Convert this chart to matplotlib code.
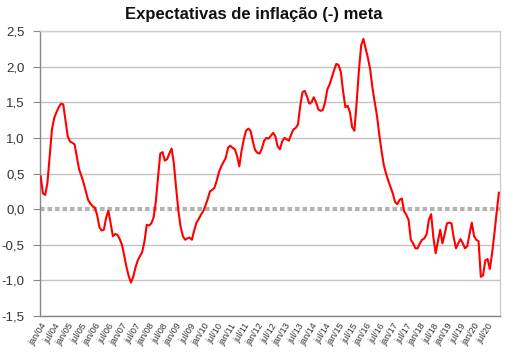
import matplotlib
matplotlib.use("Agg")
import matplotlib.pyplot as plt
import numpy as np

plt.rcParams['font.family'] = ['Liberation Sans', 'DejaVu Sans']

title = "Expectativas de inflação (-) meta"

values = [
    0.46, 0.22, 0.20, 0.37, 0.75, 1.12, 1.28, 1.36, 1.43, 1.48, 1.47, 1.25,
    1.02, 0.95, 0.93, 0.91, 0.74, 0.56, 0.47, 0.37, 0.25, 0.13, 0.08, 0.04,
    0.02, -0.08, -0.25, -0.30, -0.29, -0.12, -0.02, -0.20, -0.38, -0.35, -0.36, -0.42,
    -0.50, -0.65, -0.81, -0.94, -1.03, -0.95, -0.82, -0.72, -0.66, -0.60, -0.45, -0.22,
    -0.23, -0.20, -0.12, 0.10, 0.45, 0.78, 0.80, 0.68, 0.70, 0.78, 0.85, 0.64,
    0.30, -0.02, -0.25, -0.38, -0.43, -0.41, -0.40, -0.43, -0.30, -0.19, -0.14, -0.08,
    -0.03, 0.05, 0.14, 0.25, 0.27, 0.30, 0.40, 0.52, 0.60, 0.66, 0.72, 0.86,
    0.89, 0.86, 0.84, 0.75, 0.60, 0.82, 0.98, 1.10, 1.13, 1.10, 0.95, 0.83,
    0.79, 0.78, 0.85, 0.96, 1.00, 0.99, 1.03, 1.07, 1.02, 0.88, 0.84, 0.95,
    1.00, 0.98, 0.96, 1.05, 1.12, 1.14, 1.19, 1.45, 1.64, 1.66, 1.58, 1.48,
    1.50, 1.57, 1.50, 1.40, 1.38, 1.39, 1.50, 1.68, 1.75, 1.85, 1.95, 2.04,
    2.02, 1.92, 1.65, 1.43, 1.45, 1.36, 1.15, 1.10, 1.50, 1.95, 2.30, 2.39,
    2.25, 2.12, 1.96, 1.70, 1.50, 1.31, 1.05, 0.82, 0.62, 0.50, 0.40, 0.31,
    0.22, 0.10, 0.07, 0.13, 0.15, -0.03, -0.08, -0.15, -0.43, -0.48, -0.55, -0.55,
    -0.48, -0.43, -0.41, -0.35, -0.15, -0.07, -0.40, -0.62, -0.45, -0.29, -0.48, -0.35,
    -0.20, -0.19, -0.20, -0.40, -0.55, -0.48, -0.42, -0.48, -0.55, -0.52, -0.35, -0.19,
    -0.38, -0.43, -0.45, -0.95, -0.93, -0.72, -0.70, -0.84, -0.62, -0.35, -0.05, 0.23,
]

years = list(range(2004, 2021))
tick_labels = []
for y in years:
    tick_labels.append(f"jan/{y % 100:02d}")
    tick_labels.append(f"jul/{y % 100:02d}")

yticks = [-1.5, -1.0, -0.5, 0.0, 0.5, 1.0, 1.5, 2.0, 2.5]

fig = plt.figure(figsize=(5.27, 3.63), dpi=100)
ax = fig.add_axes([40/527, 1 - 316/363, 460/527, 285/363])

x = np.arange(len(values))
for yt in yticks:
    if yt == 0.0:
        continue
    ax.axhline(yt, color='#c4c4c4', lw=1.0, zorder=1)
ax.axhline(0.0, color='#b4b4b4', lw=3.0, ls=(0, (1.1, 0.7)), zorder=2)
ax.plot(x, values, color='#ff0000', lw=1.5, zorder=3)

ax.set_ylim(-1.5, 2.5)
ax.set_xlim(-0.3, len(values) - 0.5)
ax.set_yticks(yticks)
ax.set_yticklabels([f"{v:.1f}".replace('.', ',') for v in yticks], fontsize=9.5, color='#333333')
tick_pos = np.arange(0, 6 * len(tick_labels), 6)
ax.set_xticks(tick_pos)
ax.set_xticklabels(tick_labels, rotation=58, ha='right', va='top', fontsize=6.5,
                   color='#333333', rotation_mode='anchor')
ax.tick_params(axis='x', length=0, pad=4)
ax.tick_params(axis='y', length=5, color='#888888', pad=6)

for side in ['left', 'bottom']:
    ax.spines[side].set_color('#888888')
    ax.spines[side].set_linewidth(1.0)
for side in ['top', 'right']:
    ax.spines[side].set_color('#cccccc')
    ax.spines[side].set_linewidth(1.0)

fig.text(254/527, 1 - 15/363, title, ha='center', va='center', fontsize=12,
         fontweight='bold', color='#111111')

fig.savefig('out.png', dpi=100)
